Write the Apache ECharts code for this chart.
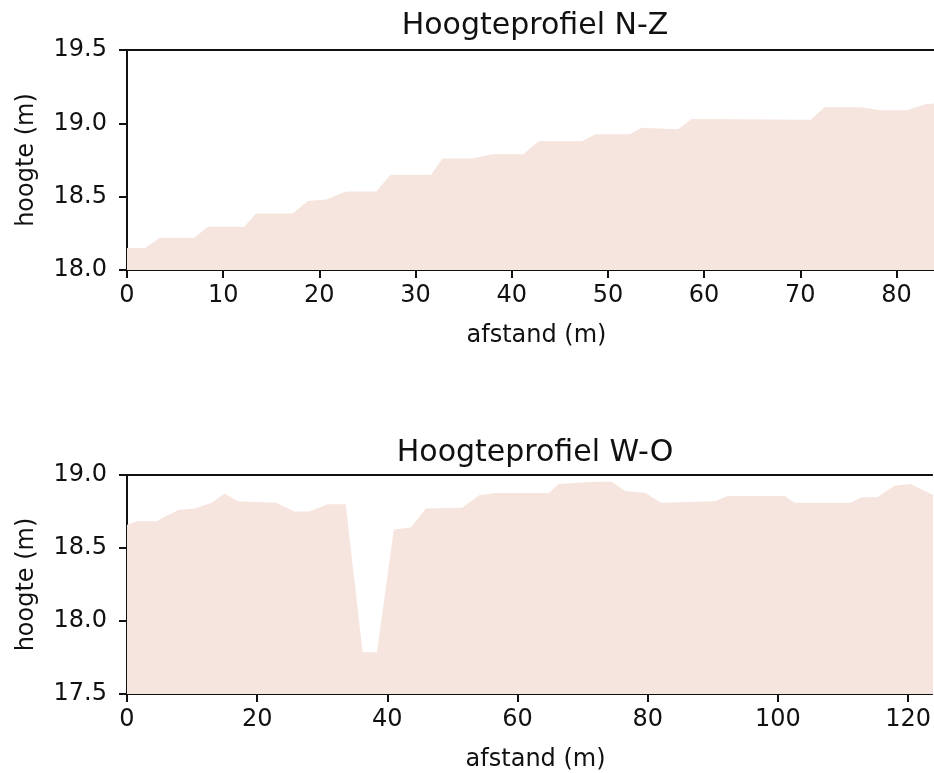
<!DOCTYPE html>
<html>
<head>
<meta charset="utf-8">
<script src="https://cdn.jsdelivr.net/npm/echarts@6/dist/echarts.min.js"></script>
<style>
html, body { margin: 0; padding: 0; background: #ffffff; }
#chart { width: 934px; height: 773px; }
</style>
</head>
<body>
<div id="chart"></div>
<script>
// Hoogteprofiel N-Z
const nzDistance = [0, 1.9, 3.4, 7.0, 8.4, 12.2, 13.4, 17.2, 18.8, 20.7, 22.8, 25.9, 27.4, 31.6, 32.8, 35.9, 38.0, 41.2, 42.8, 47.3, 48.7, 52.3, 53.5, 57.3, 58.7, 71.1, 72.5, 76.3, 78.4, 81.1, 83.0, 85.0];
const nzHeight = [18.15, 18.15, 18.22, 18.22, 18.295, 18.295, 18.385, 18.385, 18.47, 18.48, 18.535, 18.535, 18.65, 18.65, 18.76, 18.76, 18.79, 18.79, 18.878, 18.878, 18.926, 18.926, 18.97, 18.96, 19.03, 19.025, 19.11, 19.11, 19.09, 19.09, 19.13, 19.14];

// Hoogteprofiel W-O
const woDistance = [0, 1.5, 4.5, 5.6, 7.9, 10.4, 13.0, 15.0, 17.0, 22.9, 25.7, 28.0, 30.8, 33.6, 36.2, 38.4, 41.0, 43.6, 45.9, 51.5, 54.1, 56.6, 64.8, 66.3, 71.9, 74.5, 76.5, 79.6, 82.1, 90.3, 92.3, 101.0, 102.6, 111.2, 112.8, 115.3, 117.9, 120.4, 123.6, 125.0];
const woHeight = [18.66, 18.684, 18.684, 18.71, 18.76, 18.77, 18.81, 18.873, 18.82, 18.81, 18.75, 18.75, 18.80, 18.80, 17.786, 17.786, 18.627, 18.64, 18.77, 18.775, 18.862, 18.876, 18.876, 18.938, 18.954, 18.954, 18.89, 18.876, 18.81, 18.82, 18.857, 18.857, 18.81, 18.81, 18.846, 18.85, 18.926, 18.938, 18.869, 18.86];

const titles = ['Hoogteprofiel N-Z', 'Hoogteprofiel W-O'];
const xName = 'afstand (m)';
const yName = 'hoogte (m)';
const nzYTicks = { min: 18.0, max: 19.5, interval: 0.5 };
const woYTicks = { min: 17.5, max: 19.0, interval: 0.5 };
const nzXTicks = { min: 0, max: 83.9, interval: 10 };
const woXTicks = { min: 0, max: 123.7, interval: 20 };

const FONT = 'DejaVu Sans';
const TXT = '#111111';
const LINE = '#111111';
const FILL = '#f6e5de';

function pairs(xs, ys) { return xs.map((x, i) => [x, ys[i]]); }

function bottomX(gridIndex, t) {
  return {
    type: 'value', gridIndex, position: 'bottom',
    min: t.min, max: t.max, interval: t.interval,
    name: xName, nameLocation: 'middle', nameGap: 54,
    nameTextStyle: { fontFamily: FONT, fontSize: 24, color: TXT, padding: [0, 0, 0, 12] },
    axisLine: { show: true, lineStyle: { color: LINE, width: 2 } },
    axisTick: { show: true, length: 8, lineStyle: { color: LINE, width: 2 } },
    axisLabel: { fontFamily: FONT, fontSize: 24, color: TXT, margin: 14 },
    splitLine: { show: false }
  };
}
function topX(gridIndex, t) {
  return {
    type: 'value', gridIndex, position: 'top',
    min: t.min, max: t.max,
    axisLine: { show: true, lineStyle: { color: LINE, width: 2 } },
    axisTick: { show: false }, axisLabel: { show: false }, splitLine: { show: false }
  };
}
function leftY(gridIndex, t) {
  return {
    type: 'value', gridIndex,
    min: t.min, max: t.max, interval: t.interval,
    name: yName, nameLocation: 'middle', nameGap: 88, nameRotate: 90,
    nameTextStyle: { fontFamily: FONT, fontSize: 24, color: TXT },
    axisLine: { show: true, lineStyle: { color: LINE, width: 2 } },
    axisTick: { show: true, length: 8, lineStyle: { color: LINE, width: 2 } },
    axisLabel: { fontFamily: FONT, fontSize: 24, color: TXT, margin: 20,
      formatter: v => v.toFixed(1) },
    splitLine: { show: false }
  };
}

const chart = echarts.init(document.getElementById('chart'), null, { renderer: 'canvas' });
chart.setOption({
  backgroundColor: '#ffffff',
  animation: false,
  title: [
    { text: titles[0], left: 535, top: 11, textAlign: 'center', padding: 0,
      textStyle: { fontFamily: FONT, fontSize: 30, fontWeight: 'normal', color: TXT } },
    { text: titles[1], left: 535, top: 438, textAlign: 'center', padding: 0,
      textStyle: { fontFamily: FONT, fontSize: 30, fontWeight: 'normal', color: TXT } }
  ],
  grid: [
    { left: 127, right: 0, top: 50, height: 220 },
    { left: 127, right: 0, top: 475, height: 220 }
  ],
  xAxis: [bottomX(0, nzXTicks), bottomX(1, woXTicks), topX(0, nzXTicks), topX(1, woXTicks)],
  yAxis: [leftY(0, nzYTicks), leftY(1, woYTicks)],
  series: [
    { type: 'line', xAxisIndex: 0, yAxisIndex: 0, data: pairs(nzDistance, nzHeight),
      showSymbol: false, symbol: 'none', lineStyle: { width: 0 },
      areaStyle: { color: FILL, opacity: 1, origin: 'start' }, clip: true },
    { type: 'line', xAxisIndex: 1, yAxisIndex: 1, data: pairs(woDistance, woHeight),
      showSymbol: false, symbol: 'none', lineStyle: { width: 0 },
      areaStyle: { color: FILL, opacity: 1, origin: 'start' }, clip: true }
  ]
});
</script>
</body>
</html>
